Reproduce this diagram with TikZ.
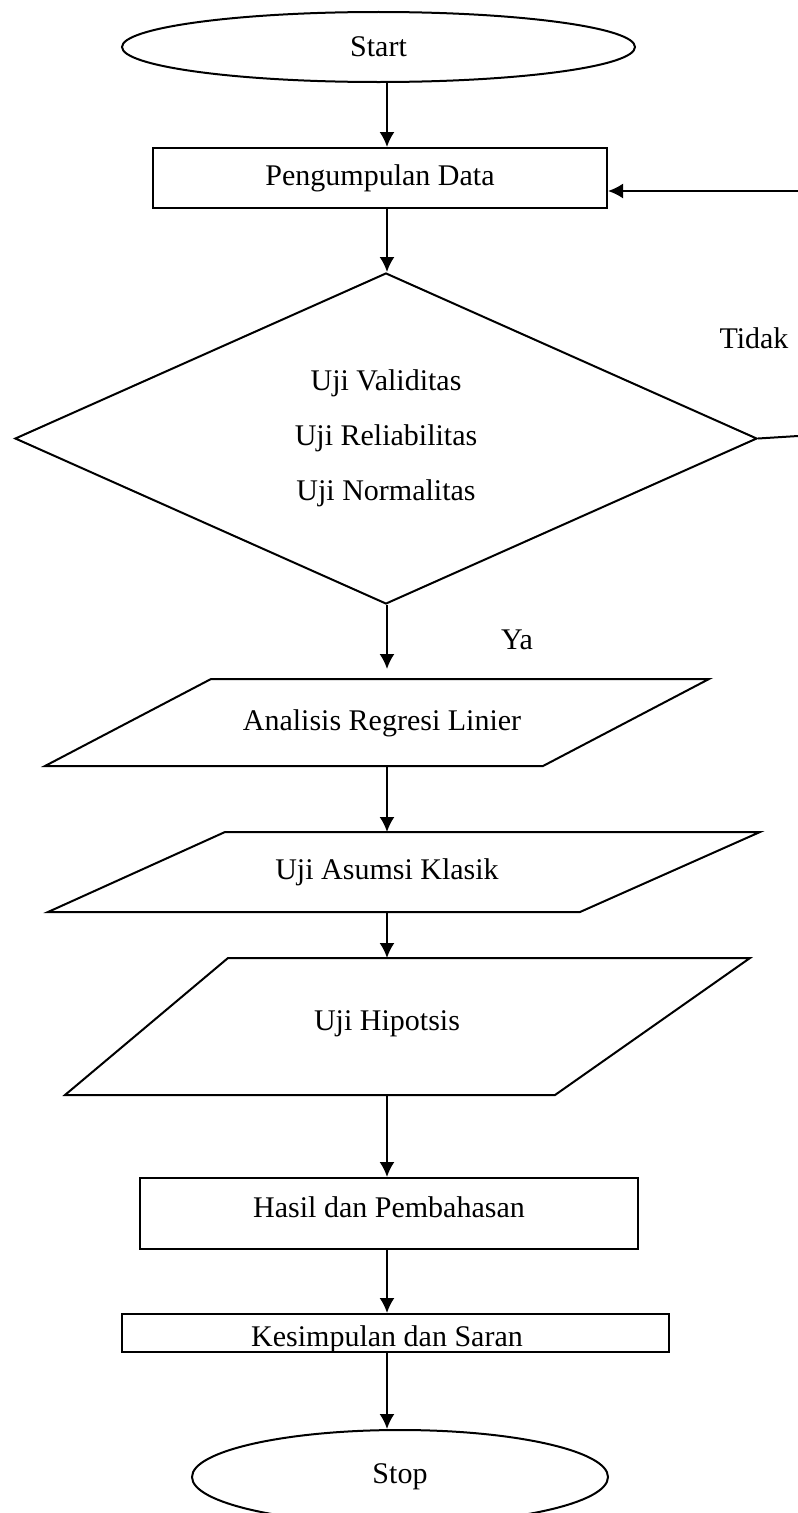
\documentclass[tikz,border=0pt,12pt]{standalone}
\usepackage{fontspec}
\setmainfont{Liberation Serif}
\usetikzlibrary{arrows.meta,shapes.geometric,positioning}

\begin{document}
\begin{tikzpicture}[x=0.4pt,y=-0.4pt,
  every node/.style={font=\fontsize{12}{14}\selectfont},
  terminal/.style={draw,ellipse,line width=0.8pt,inner sep=0pt},
  process/.style={draw,rectangle,line width=0.8pt,inner sep=0pt},
  decision/.style={draw,diamond,aspect=2.2,line width=0.8pt,inner sep=0pt,align=center,font=\fontsize{12}{22}\selectfont},
  io/.style={line width=0.8pt,line join=miter},
  flow/.style={line width=0.8pt,-{Latex[length=6pt,width=6pt]}}]
\useasboundingbox (0,0) rectangle (798,1513);
\clip (0,0) rectangle (798,1513);
\coordinate (axis) at (387,0);

\node[terminal,minimum width=205.2pt,minimum height=28pt] (start) at (378.5,47) {Start};
\node[process,minimum width=181.6pt,minimum height=24pt] (data) at (380,178) {Pengumpulan Data};
\node[decision,minimum width=296.8pt,minimum height=132.4pt] (uji) at (386,438.5) {Uji Validitas\\Uji Reliabilitas\\Uji Normalitas};
\node (tidak) at (754,338) {Tidak};
\node (ya) at (517,640) {Ya};

\draw[io] (211,679) coordinate (regresiT) -- (709,679) -- (543,766) -- (45,766) coordinate (regresiB) -- cycle;
\node (regresi) at (382,723) {Analisis Regresi Linier};
\draw[io] (225,832) coordinate (asumsiT) -- (760,832) -- (580,912) -- (48,912) coordinate (asumsiB) -- cycle;
\node (asumsi) at (387,872) {Uji Asumsi Klasik};
\draw[io] (228,958) coordinate (hipoT) -- (750,958) -- (555,1095) -- (65,1095) coordinate (hipoB) -- cycle;
\node (hipo) at (387,1024) {Uji Hipotsis};

\node[process,minimum width=199.2pt,minimum height=28.4pt] (hasil) at (389,1213.5) {};
\node (hasiltxt) at (389,1207) {Hasil dan Pembahasan};
\node[process,minimum width=218.8pt,minimum height=15.2pt] (simpul) at (395.5,1333) {};
\node[anchor=base] (simpultxt) at (387,1346) {Kesimpulan dan Saran};
\node[terminal,minimum width=166.4pt,minimum height=37.6pt] (stop) at (400,1477) {Stop};

\coordinate (balikA) at (830,434);
\coordinate (balikB) at (830,191);

\draw[flow] (start.south -| axis) -- (data.north -| axis);
\draw[flow] (data.south -| axis) -- (uji.north -| axis);
\draw[flow] (uji.south -| axis) -- ([yshift=4pt]regresiT -| axis);
\draw[flow] (regresiB -| axis) -- (asumsiT -| axis);
\draw[flow] (asumsiB -| axis) -- (hipoT -| axis);
\draw[flow] (hipoB -| axis) -- (hasil.north -| axis);
\draw[flow] (hasil.south -| axis) -- (simpul.north -| axis);
\draw[flow] (simpul.south -| axis) -- (stop.north -| axis);
\draw[line width=0.8pt] (uji.east) -- (balikA) -- (balikB);
\draw[flow] (balikB) -- (data.east |- balikB);
\end{tikzpicture}
\end{document}
